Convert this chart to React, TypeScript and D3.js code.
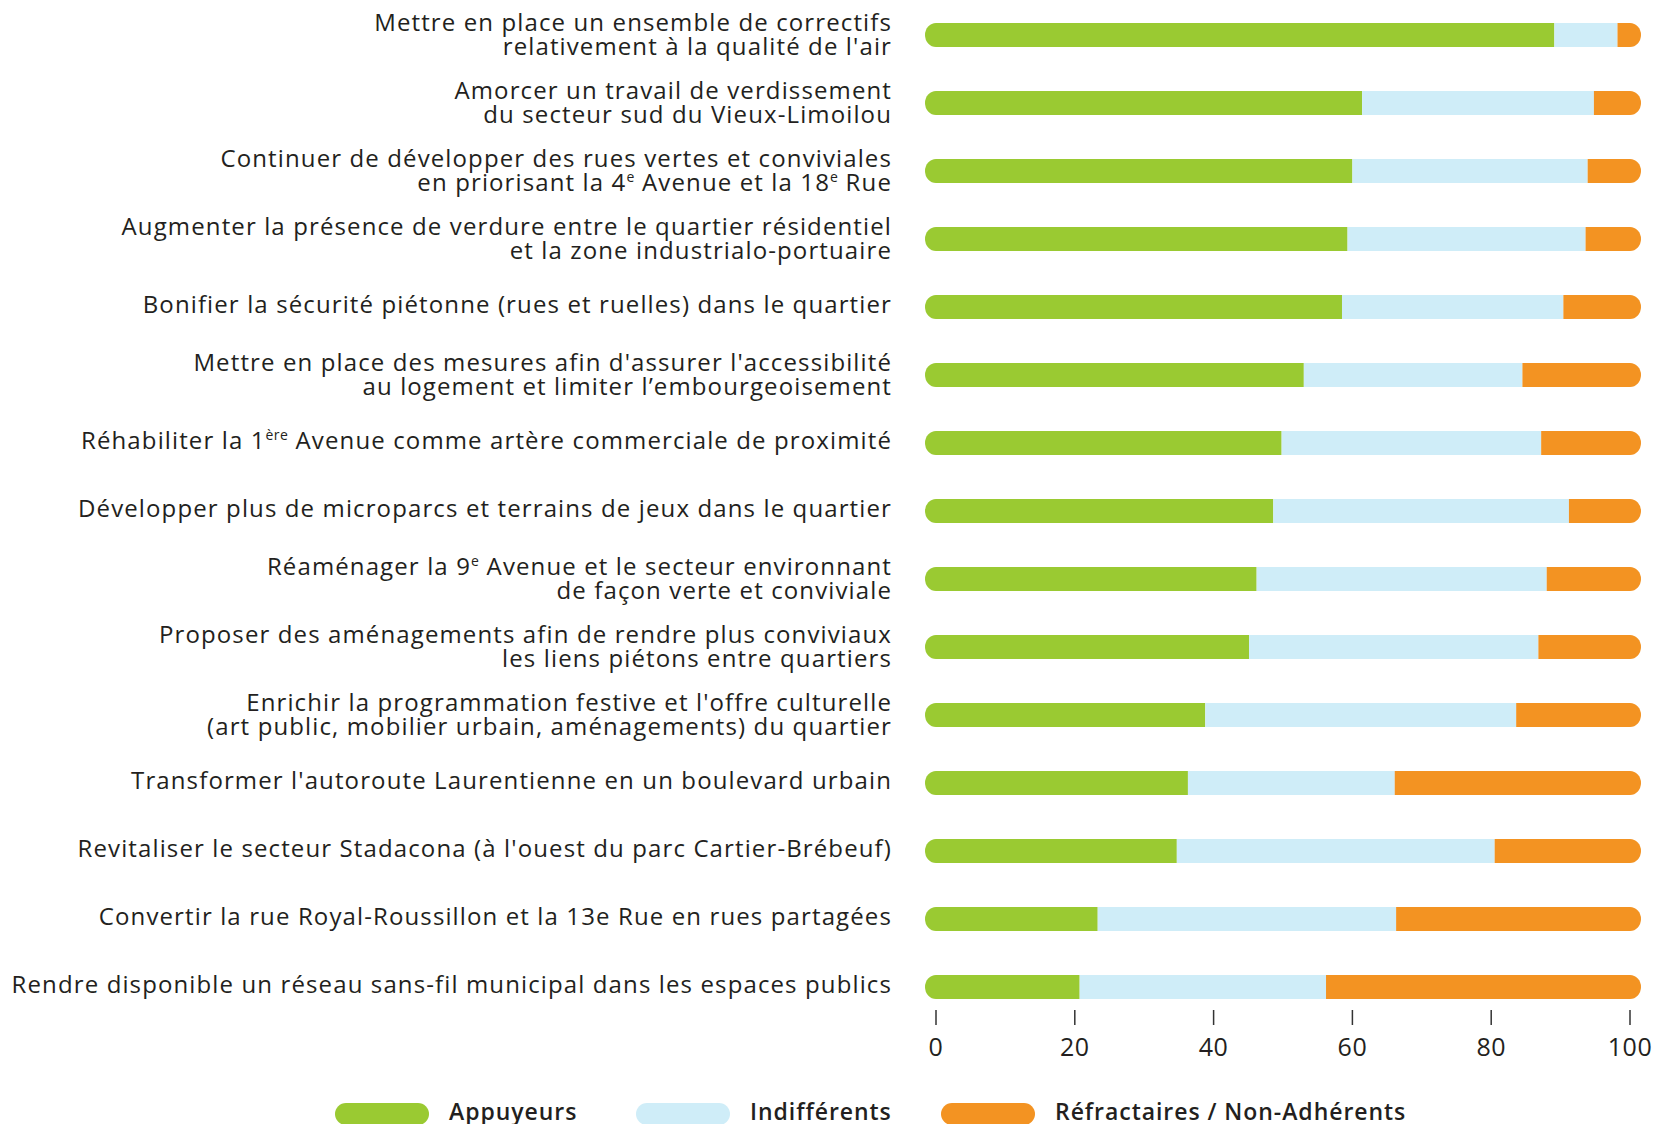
import React from "react";
import * as d3 from "d3";

const categories: string[][] = [
  ["Mettre en place un ensemble de correctifs", "relativement à la qualité de l'air"],
  ["Amorcer un travail de verdissement", "du secteur sud du Vieux-Limoilou"],
  ["Continuer de développer des rues vertes et conviviales", "en priorisant la 4^{e} Avenue et la 18^{e} Rue"],
  ["Augmenter la présence de verdure entre le quartier résidentiel", "et la zone industrialo-portuaire"],
  ["Bonifier la sécurité piétonne (rues et ruelles) dans le quartier"],
  ["Mettre en place des mesures afin d'assurer l'accessibilité", "au logement et limiter l’embourgeoisement"],
  ["Réhabiliter la 1^{ère} Avenue comme artère commerciale de proximité"],
  ["Développer plus de microparcs et terrains de jeux dans le quartier"],
  ["Réaménager la 9^{e} Avenue et le secteur environnant", "de façon verte et conviviale"],
  ["Proposer des aménagements afin de rendre plus conviviaux", "les liens piétons entre quartiers"],
  ["Enrichir la programmation festive et l'offre culturelle", "(art public, mobilier urbain, aménagements) du quartier"],
  ["Transformer l'autoroute Laurentienne en un boulevard urbain"],
  ["Revitaliser le secteur Stadacona (à l'ouest du parc Cartier-Brébeuf)"],
  ["Convertir la rue Royal-Roussillon et la 13e Rue en rues partagées"],
  ["Rendre disponible un réseau sans-fil municipal dans les espaces publics"],
];

const appuyeurs: number[] = [89.1, 61.4, 60.0, 59.3, 58.5, 53.0, 49.8, 48.6, 46.2, 45.1, 38.8, 36.3, 34.7, 23.3, 20.7];
const indifferents: number[] = [9.1, 33.4, 33.9, 34.3, 31.9, 31.5, 37.4, 42.6, 41.8, 41.7, 44.8, 29.8, 45.8, 43.0, 35.5];
const refractaires: number[] = [1.8, 5.2, 6.1, 6.4, 9.6, 15.5, 12.8, 8.8, 12.0, 13.2, 16.4, 33.9, 19.5, 33.7, 43.8];

const seriesNames: string[] = ["Appuyeurs", "Indifférents", "Réfractaires / Non-Adhérents"];
const seriesColors: string[] = ["#9aca32", "#cfedf8", "#f39322"];
const xTicks: number[] = [0, 20, 40, 60, 80, 100];

const W = 1653;
const H = 1124;
const FONT = "'Open Sans', 'DejaVu Sans', sans-serif";
const TEXT = "#231f20";

function renderLine(line: string) {
  const parts = line.split(/(\^\{[^}]*\})/).filter((p) => p.length);
  const out: React.ReactNode[] = [];
  let shifted = false;
  parts.forEach((p, i) => {
    if (p.startsWith("^{")) {
      out.push(
        <tspan key={i} fontSize={14} dy={-9} letterSpacing={0.4}>
          {p.slice(2, -1)}
        </tspan>
      );
      shifted = true;
    } else {
      out.push(
        <tspan key={i} dy={shifted ? 9 : 0}>
          {p}
        </tspan>
      );
      shifted = false;
    }
  });
  return out;
}

export default function App() {
  const x = d3.scaleLinear().domain([0, 100]).range([936, 1630]);
  const y = d3
    .scalePoint<number>()
    .domain(d3.range(categories.length))
    .range([35, 987]);
  const barH = 24;
  const capPad = 11;
  const labelX = 892;

  const rows = categories.map((lines, i) => {
    const vals = [appuyeurs[i], indifferents[i], refractaires[i]];
    const stacks: [number, number][] = [];
    let acc = 0;
    vals.forEach((v) => {
      stacks.push([acc, acc + v]);
      acc += v;
    });
    return { lines, stacks, i };
  });

  return (
    <svg
      width={W}
      height={H}
      style={{ position: "absolute", left: 0, top: 0, display: "block", background: "#fff" }}
      fontFamily={FONT}
    >
      <defs>
        {rows.map((r) => (
          <clipPath id={`clip${r.i}`} key={r.i}>
            <rect
              x={x(0) - capPad}
              y={(y(r.i) as number) - barH / 2}
              width={x(100) - x(0) + capPad * 2}
              height={barH}
              rx={11}
              ry={12}
            />
          </clipPath>
        ))}
      </defs>

      {rows.map((r) => {
        const cy = y(r.i) as number;
        return (
          <g key={r.i}>
            <g clipPath={`url(#clip${r.i})`}>
              {r.stacks.map(([a, b], k) => {
                const x0 = k === 0 ? x(0) - capPad : x(a);
                const x1 = k === r.stacks.length - 1 ? x(100) + capPad : x(b);
                return (
                  <rect
                    key={k}
                    x={x0}
                    y={cy - barH / 2}
                    width={Math.max(0, x1 - x0)}
                    height={barH}
                    fill={seriesColors[k]}
                  />
                );
              })}
            </g>
            <text
              textAnchor="end"
              fontSize={24}
              fill={TEXT}
              x={labelX}
              letterSpacing={1.12}
            >
              {r.lines.map((ln, li) => (
                <tspan
                  key={li}
                  x={labelX}
                  y={r.lines.length === 1 ? cy + 6 : cy - 4 + li * 24}
                >
                  {renderLine(ln)}
                </tspan>
              ))}
            </text>
          </g>
        );
      })}

      {/* axis */}
      <g>
        {xTicks.map((t) => (
          <g key={t}>
            <line x1={x(t)} x2={x(t)} y1={1010} y2={1025} stroke="#333" strokeWidth={1.5} />
            <text x={x(t)} y={1056} textAnchor="middle" fontSize={25} fill={TEXT} letterSpacing={0.5}>
              {t}
            </text>
          </g>
        ))}
      </g>

      {/* legend */}
      <g>
        {seriesNames.map((name, k) => {
          const lx = [335, 636, 941][k];
          return (
            <g key={name}>
              <rect x={lx} y={1103} width={94} height={22} rx={11} fill={seriesColors[k]} />
              <text x={lx + 114} y={1120} fontSize={23} fontWeight={600} fill={TEXT} letterSpacing={0.95}>
                {name}
              </text>
            </g>
          );
        })}
      </g>
    </svg>
  );
}
